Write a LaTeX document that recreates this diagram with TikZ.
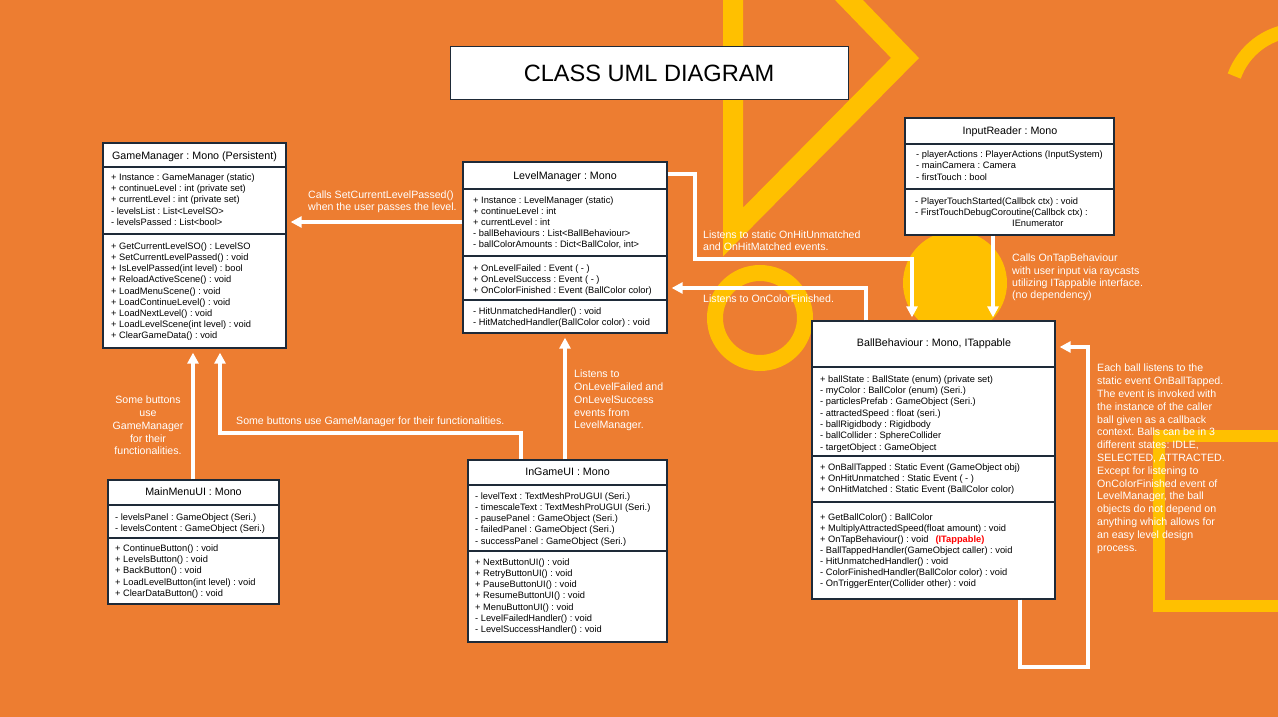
\documentclass[tikz,border=0pt]{standalone}
\usepackage{fontspec}
\setmainfont{Liberation Sans}
\usetikzlibrary{arrows.meta,calc}
\definecolor{bgor}{HTML}{ED7D31}
\definecolor{ylw}{HTML}{FFC000}
\definecolor{bdr}{HTML}{1E2A38}
\definecolor{itred}{HTML}{FF0000}
\frenchspacing
\tikzset{
 classbox/.style={draw=bdr, fill=white, line width=1.3pt, inner sep=0pt},
 divider/.style={draw=bdr, line width=1.3pt},
 mtxt/.style={anchor=base west, inner sep=0pt, font=\fontsize{9.3}{11}\selectfont, text=black},
 ttl/.style={anchor=center, inner sep=0pt, font=\fontsize{10.7}{12}\selectfont, text=black},
 lbl/.style={anchor=base west, inner sep=0pt, font=\fontsize{10.6}{12.7}\selectfont, text=white},
 lblc/.style={lbl, anchor=base},
 conn/.style={draw=white, line width=3.6pt},
 arr/.style={conn, -{Triangle[length=11pt,width=11pt]}},
 deco/.style={draw=ylw, line width=20pt},
}
\newcommand{\mlines}[5]{\foreach \t [count=\i from 0] in {#5} \node[mtxt] (#1\i) at (#2,{#3+3.3+\i*#4}) {\frenchspacing\t};}
\newcommand{\llines}[6]{\foreach \t [count=\i from 0] in {#6} \node[#5] (#1\i) at (#2,{#3+3.8+\i*#4}) {\frenchspacing\t};}
\begin{document}
\begin{tikzpicture}[x=1pt,y=-1pt]
\useasboundingbox (0,0) rectangle (1278,717);
\fill[bgor] (0,0) rectangle (1278,717);
% background decorations
\begin{scope}
\clip (0,0) rectangle (1278,717);
\draw[deco, line join=miter] (733,-120) -- (733,232) -- (905,58) -- cycle;
\draw[draw=ylw, line width=16pt] (760,318) circle[radius=45];
\fill[ylw] (955,283) circle[radius=52];
\draw[draw=ylw, line width=12pt] (1159,436) rectangle (1300,606);
\draw[draw=ylw, line width=14pt] (1300,100) ++(200:70) arc[start angle=200, end angle=265, radius=70];
\end{scope}
% title
\node[draw=bdr, fill=white, line width=1pt, minimum width=398pt, minimum height=53pt, inner sep=0pt,
  font=\fontsize{23.6}{28}\selectfont] (title) at (649,73.5) {CLASS UML DIAGRAM};
% GameManager
\node[classbox, minimum width=183pt, minimum height=205pt] (gm) at (194.5,245.5) {};
\node[ttl] (gmt) at (194.5,157) {\frenchspacing GameManager : Mono (Persistent)};
\draw[divider] (gm.west |- 0,167) -- (gm.east |- 0,167);
\draw[divider] (gm.west |- 0,234) -- (gm.east |- 0,234);
\mlines{gma}{111}{177}{11.3}{{+ Instance : GameManager (static)},{+ continueLevel : int (private set)},{+ currentLevel : int (private set)},{- levelsList : List<LevelSO>},{- levelsPassed : List<bool>}}
\mlines{gmm}{111}{246}{11.2}{{+ GetCurrentLevelSO() : LevelSO},{+ SetCurrentLevelPassed() : void},{+ IsLevelPassed(int level) : bool},{+ ReloadActiveScene() : void},{+ LoadMenuScene() : void},{+ LoadContinueLevel() : void},{+ LoadNextLevel() : void},{+ LoadLevelScene(int level) : void},{+ ClearGameData() : void}}
% LevelManager
\node[classbox, minimum width=204pt, minimum height=171pt] (lm) at (565,247.5) {};
\node[ttl] (lmt) at (565,177) {\frenchspacing LevelManager : Mono};
\draw[divider] (lm.west |- 0,189) -- (lm.east |- 0,189);
\draw[divider] (lm.west |- 0,256) -- (lm.east |- 0,256);
\draw[divider] (lm.west |- 0,300) -- (lm.east |- 0,300);
\mlines{lma}{473}{200}{11}{{+ Instance : LevelManager (static)},{+ continueLevel : int},{+ currentLevel : int},{- ballBehaviours : List<BallBehaviour>},{- ballColorAmounts : Dict<BallColor, int>}}
\mlines{lme}{473}{268}{11}{{+ OnLevelFailed : Event ( - )},{+ OnLevelSuccess : Event ( - )},{+ OnColorFinished : Event (BallColor color)}}
\mlines{lmm}{473}{311}{11}{{- HitUnmatchedHandler() : void},{- HitMatchedHandler(BallColor color) : void}}
% InputReader
\node[classbox, minimum width=209pt, minimum height=117pt] (ir) at (1009.5,176.5) {};
\node[ttl] (irt) at (1010,132) {\frenchspacing InputReader : Mono};
\draw[divider] (ir.west |- 0,144) -- (ir.east |- 0,144);
\draw[divider] (ir.west |- 0,189) -- (ir.east |- 0,189);
\mlines{ira}{916}{154}{11.5}{{- playerActions : PlayerActions (InputSystem)},{- mainCamera : Camera},{- firstTouch : bool}}
\mlines{irm}{915}{201}{11}{{- PlayerTouchStarted(Callbck ctx) : void},{- FirstTouchDebugCoroutine(Callbck ctx) :}}
\node[mtxt] (irm2) at (1012,226.3) {IEnumerator};
% BallBehaviour
\node[classbox, minimum width=243pt, minimum height=278pt] (bb) at (933.5,460) {};
\node[ttl] (bbt) at (934,344) {\frenchspacing BallBehaviour : Mono, ITappable};
\draw[divider] (bb.west |- 0,367) -- (bb.east |- 0,367);
\draw[divider] (bb.west |- 0,456) -- (bb.east |- 0,456);
\draw[divider] (bb.west |- 0,502) -- (bb.east |- 0,502);
\mlines{bba}{820}{379}{11.3}{{+ ballState : BallState (enum) (private set)},{- myColor : BallColor (enum) (Seri.)},{- particlesPrefab : GameObject (Seri.)},{- attractedSpeed : float (seri.)},{- ballRigidbody : Rigidbody},{- ballCollider : SphereCollider},{- targetObject : GameObject}}
\mlines{bbe}{820}{467}{11}{{+ OnBallTapped : Static Event (GameObject obj)},{+ OnHitUnmatched : Static Event ( - )},{+ OnHitMatched : Static Event (BallColor color)}}
\mlines{bbm}{820}{517}{11}{{+ GetBallColor() : BallColor},{+ MultiplyAttractedSpeed(float amount) : void},{+ OnTapBehaviour() : void\hspace{7pt}\textcolor{itred}{\bfseries (ITappable)}},{- BallTappedHandler(GameObject caller) : void},{- HitUnmatchedHandler() : void},{- ColorFinishedHandler(BallColor color) : void},{- OnTriggerEnter(Collider other) : void}}
% MainMenuUI
\node[classbox, minimum width=171pt, minimum height=124pt] (mm) at (193.5,542) {};
\node[ttl] (mmt) at (193.5,492) {\frenchspacing MainMenuUI : Mono};
\draw[divider] (mm.west |- 0,505) -- (mm.east |- 0,505);
\draw[divider] (mm.west |- 0,538) -- (mm.east |- 0,538);
\mlines{mma}{115}{517}{11}{{- levelsPanel : GameObject (Seri.)},{- levelsContent : GameObject (Seri.)}}
\mlines{mmm}{115}{548}{11.3}{{+ ContinueButton() : void},{+ LevelsButton() : void},{+ BackButton() : void},{+ LoadLevelButton(int level) : void},{+ ClearDataButton() : void}}
% InGameUI
\node[classbox, minimum width=199pt, minimum height=182pt] (ig) at (567.5,551) {};
\node[ttl] (igt) at (567.5,472) {\frenchspacing InGameUI : Mono};
\draw[divider] (ig.west |- 0,485) -- (ig.east |- 0,485);
\draw[divider] (ig.west |- 0,551) -- (ig.east |- 0,551);
\mlines{iga}{475}{496}{11.2}{{- levelText : TextMeshProUGUI (Seri.)},{- timescaleText : TextMeshProUGUI (Seri.)},{- pausePanel : GameObject (Seri.)},{- failedPanel : GameObject (Seri.)},{- successPanel : GameObject (Seri.)}}
\mlines{igm}{475}{562}{11.2}{{+ NextButtonUI() : void},{+ RetryButtonUI() : void},{+ PauseButtonUI() : void},{+ ResumeButtonUI() : void},{+ MenuButtonUI() : void},{- LevelFailedHandler() : void},{- LevelSuccessHandler() : void}}
% connectors
\draw[arr] (lm.west |- 0,222) -- ($(gm.east |- 0,222)+(4,0)$);
\draw[arr] (lm.east |- 0,174) -- (695,174) -- (695,259) -- (912,259) -- ($(bb.north -| 912,0)+(0,-3)$);
\draw[arr] (bb.north -| 866,0) -- (866,288) -- ($(lm.east |- 0,288)+(4,0)$);
\draw[arr] (ir.south -| 993,0) -- ($(bb.north -| 993,0)+(0,-3)$);
\draw[arr] (mm.north -| 193,0) -- ($(gm.south -| 193,0)+(0,4)$);
\draw[arr] (ig.north -| 521,0) -- (521,433) -- (220,433) -- ($(gm.south -| 220,0)+(0,4)$);
\draw[arr] (ig.north -| 565,0) -- ($(lm.south -| 565,0)+(0,4)$);
\draw[arr] (bb.south -| 1020,0) -- (1020,667) -- (1088,667) -- (1088,347) -- ($(bb.east |- 0,347)+(4,0)$);
% labels
\llines{la}{308}{195}{12}{lbl}{{Calls SetCurrentLevelPassed()},{when the user passes the level.}}
\llines{lb}{703}{235}{12}{lbl}{{Listens to static OnHitUnmatched},{and OnHitMatched events.}}
\llines{lc}{703}{299}{12}{lbl}{{Listens to OnColorFinished.}}
\llines{ld}{1012}{258}{12.2}{lbl}{{Calls OnTapBehaviour},{with user input via raycasts},{utilizing ITappable interface.},{(no dependency)}}
\llines{le}{148}{400}{12.75}{lblc}{{Some buttons},{use},{GameManager},{for their},{functionalities.}}
\llines{lf}{236}{421}{12}{lbl}{{Some buttons use GameManager for their functionalities.}}
\llines{lg}{574}{374}{12.75}{lbl}{{Listens to},{OnLevelFailed and},{OnLevelSuccess},{events from},{LevelManager.}}
\llines{lh}{1097}{368}{12.8}{lbl}{{Each ball listens to the},{static event OnBallTapped.},{The event is invoked with},{the instance of the caller},{ball given as a callback},{context. Balls can be in 3},{different states: IDLE,},{SELECTED, ATTRACTED.},{Except for listening to},{OnColorFinished event of},{LevelManager, the ball},{objects do not depend on},{anything which allows for},{an easy level design},{process.}}
\end{tikzpicture}
\end{document}
